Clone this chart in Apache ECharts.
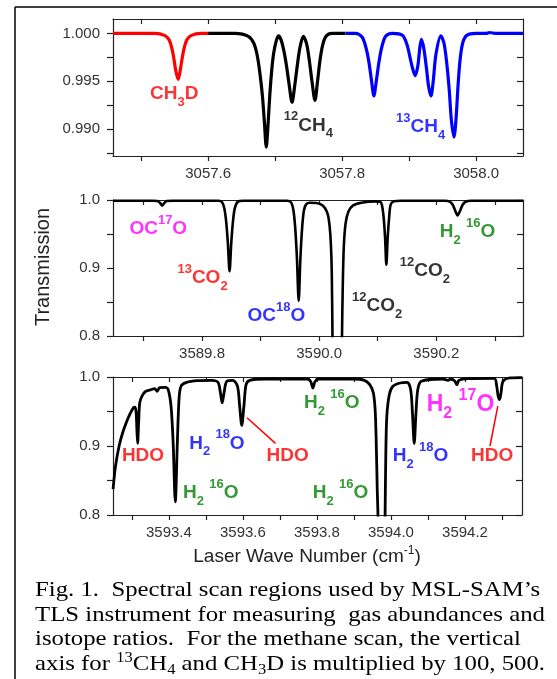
<!DOCTYPE html>
<html><head><meta charset="utf-8">
<script src="https://cdn.jsdelivr.net/npm/echarts@6/dist/echarts.min.js"></script>
<style>html,body{margin:0;padding:0;background:#fff;}#c{width:557px;height:679px;}</style>
</head><body><div id="c"></div>
<script>
// ---------- Panel 1: methane scan ----------
const ch3dTrace = [
 [3057.458,1.0000],[3057.520,1.0000],[3057.535,0.9998],[3057.542,0.9993],[3057.546,0.9984],
 [3057.549,0.9973],[3057.552,0.9960],[3057.5553,0.9952],[3057.558,0.9960],[3057.561,0.9973],
 [3057.564,0.9984],[3057.568,0.9993],[3057.575,0.9998],[3057.590,1.0000],[3057.600,1.0000]
];
const ch4Trace12 = [
 [3057.600,1.0000],[3057.640,1.0000],[3057.660,0.9997],[3057.668,0.9990],[3057.673,0.9978],
 [3057.677,0.9960],[3057.681,0.9935],[3057.684,0.9907],[3057.6868,0.9881],[3057.689,0.9900],
 [3057.692,0.9935],[3057.695,0.9962],[3057.698,0.9980],[3057.702,0.9993],[3057.7053,0.99975],
 [3057.709,0.9993],[3057.713,0.9982],[3057.717,0.9966],[3057.721,0.9946],[3057.7253,0.9928],
 [3057.729,0.9944],[3057.733,0.9966],[3057.737,0.9985],[3057.742,0.9997],[3057.747,0.9989],
 [3057.751,0.9972],[3057.755,0.9950],[3057.7595,0.9930],[3057.763,0.9948],[3057.767,0.9972],
 [3057.771,0.9988],[3057.776,0.9997],[3057.785,1.0000],[3057.805,1.0000]
];
const ch4Trace13 = [
 [3057.805,1.0000],[3057.820,1.0000],[3057.830,0.9996],[3057.836,0.9984],[3057.840,0.9970],
 [3057.844,0.9950],[3057.8474,0.99346],[3057.851,0.9950],[3057.855,0.9970],[3057.859,0.9985],
 [3057.865,0.9997],[3057.875,1.0000],[3057.890,0.9998],[3057.897,0.9988],[3057.901,0.9976],
 [3057.905,0.9964],[3057.909,0.99559],[3057.913,0.9966],[3057.916,0.9985],[3057.9184,0.99937],
 [3057.922,0.9984],[3057.926,0.9963],[3057.929,0.9945],[3057.9326,0.99346],[3057.936,0.9950],
 [3057.940,0.9978],[3057.9474,0.99975],[3057.952,0.9990],[3057.956,0.9970],[3057.960,0.9940],
 [3057.963,0.9910],[3057.967,0.98916],[3057.970,0.9910],[3057.973,0.9945],[3057.976,0.9972],
 [3057.980,0.9990],[3057.986,0.9998],[3058.000,1.0000],[3058.015,1.0000],[3058.020,1.0001],
 [3058.030,1.0000],[3058.070,1.0000]
];
// ---------- Panel 2: CO2 scan ----------
const co2Trace = [
 [3589.648,0.9990],[3589.715,0.9990],[3589.724,0.9985],[3589.728,0.9960],[3589.732,0.9918],
 [3589.736,0.9960],[3589.740,0.9985],[3589.750,0.9990],[3589.828,0.9990],[3589.834,0.9970],
 [3589.838,0.9880],[3589.841,0.9700],[3589.844,0.9380],[3589.847,0.8952],[3589.850,0.9380],
 [3589.853,0.9700],[3589.856,0.9880],[3589.861,0.9975],[3589.870,0.9990],[3589.945,0.9990],
 [3589.952,0.9965],[3589.956,0.9850],[3589.959,0.9600],[3589.962,0.9150],[3589.965,0.8517],
 [3589.968,0.9150],[3589.971,0.9600],[3589.974,0.9850],[3589.978,0.9940],[3589.984,0.9960],
 [3589.995,0.9955],[3590.003,0.9935],[3590.010,0.9880],[3590.015,0.9780],[3590.018,0.9600],
 [3590.020,0.9350],[3590.0215,0.8950],[3590.0227,0.8000],[3590.025,0.6000],[3590.031,0.5000],
 [3590.037,0.6000],[3590.039,0.8000],[3590.0402,0.8700],[3590.042,0.9300],[3590.045,0.9650],
 [3590.050,0.9830],[3590.058,0.9920],[3590.072,0.9960],[3590.095,0.9980],[3590.104,0.9975],
 [3590.107,0.9930],[3590.110,0.9750],[3590.1125,0.9450],[3590.1147,0.9048],[3590.117,0.9450],
 [3590.1195,0.9750],[3590.122,0.9930],[3590.127,0.9980],[3590.140,0.9990],[3590.215,0.9990],
 [3590.223,0.9975],[3590.228,0.9930],[3590.232,0.9850],[3590.2363,0.9773],[3590.241,0.9850],
 [3590.245,0.9930],[3590.250,0.9975],[3590.260,0.9990],[3590.348,0.9990]
];
// ---------- Panel 3: H2O scan ----------
const h2oTrace = [
 [3593.2492,0.8375],[3593.2559,0.8712],[3593.2655,0.9000],[3593.2751,0.9192],[3593.2847,0.9337],
 [3593.2943,0.9457],[3593.3039,0.9553],[3593.3087,0.9563],[3593.3116,0.9481],[3593.3135,0.9240],
 [3593.3155,0.9038],[3593.3183,0.9337],[3593.3212,0.9625],[3593.3280,0.9731],[3593.3376,0.9793],
 [3593.3520,0.9817],[3593.3616,0.9832],[3593.3683,0.9793],[3593.3750,0.9846],[3593.3904,0.9851],
 [3593.3981,0.9817],[3593.4058,0.9577],[3593.4115,0.9048],[3593.4173,0.8192],[3593.4231,0.9096],
 [3593.4279,0.9721],[3593.4336,0.9875],[3593.4480,0.9923],[3593.4768,0.9947],[3593.5153,0.9952],
 [3593.5326,0.9923],[3593.5393,0.9769],[3593.5441,0.9625],[3593.5489,0.9769],[3593.5566,0.9938],
 [3593.5729,0.9952],[3593.5854,0.9865],[3593.5912,0.9577],[3593.5969,0.9298],[3593.6027,0.9577],
 [3593.6085,0.9889],[3593.6181,0.9952],[3593.6594,0.9971],[3593.7746,0.9971],[3593.7833,0.9933],
 [3593.7890,0.9841],[3593.7948,0.9933],[3593.8035,0.9971],[3593.8995,0.9971],[3593.9283,0.9952],
 [3593.9427,0.9889],[3593.9524,0.9769],[3593.9572,0.9529],[3593.9600,0.9096],[3593.9629,0.8375],
 [3593.9648,0.8000],[3593.9700,0.6000],[3593.9745,0.5000],[3593.9790,0.6000],[3593.9841,0.8000],
 [3593.9860,0.8856],[3593.9888,0.9433],[3593.9956,0.9745],[3594.0052,0.9865],[3594.0244,0.9913],
 [3594.0436,0.9923],[3594.0532,0.9817],[3594.0580,0.9481],[3594.0628,0.9038],[3594.0676,0.9481],
 [3594.0724,0.9817],[3594.0820,0.9938],[3594.1397,0.9971],[3594.1541,0.9952],[3594.1608,0.9971],
 [3594.1723,0.9942],[3594.1780,0.9889],[3594.1838,0.9952],[3594.2069,0.9976],[3594.2790,0.9981],
 [3594.2857,0.9865],[3594.2896,0.9721],[3594.2934,0.9673],[3594.2973,0.9769],[3594.3030,0.9938],
 [3594.3223,0.9986],[3594.3539,0.9990]
];
// ---------- Axes ranges and ticks ----------
const xRange1 = [3057.458, 3058.07], yRange1 = [0.98718, 1.00151];
const xRange2 = [3589.648, 3590.348], yRange2 = [0.8, 1.0];
const xRange3 = [3593.249, 3594.354], yRange3 = [0.8, 1.0];
const xTicks1 = [3057.5,3057.6,3057.7,3057.8,3057.9,3058.0];
const xLabels1 = [3057.6,3057.8,3058.0];
const yTicks1 = [0.9875,0.990,0.9925,0.995,0.9975,1.000];
const yLabels1 = [0.990,0.995,1.000];
const xTicks2 = [3589.7,3589.8,3589.9,3590.0,3590.1,3590.2,3590.3];
const xLabels2 = [3589.8,3590.0,3590.2];
const xTicks3 = [3593.3,3593.4,3593.5,3593.6,3593.7,3593.8,3593.9,3594.0,3594.1,3594.2,3594.3];
const xLabels3 = [3593.4,3593.6,3593.8,3594.0,3594.2];
const yTicks23 = [0.8,0.85,0.9,0.95,1.0];
const yLabels23 = [0.8,0.9,1.0];
// ---------- Annotations: [x, y, species] ----------
const notes1 = [[3057.5132,0.99371,'CH3D'],[3057.713,0.99038,'12CH4'],[3057.8805,0.99021,'13CH4']];
const notes2 = [[3589.676,0.958,'OC17O'],[3589.758,0.8855,'13CO2'],[3589.8775,0.830,'OC18O'],
  [3590.1377,0.8952,'12CO2'],[3590.056,0.8444,'12CO2'],[3590.206,0.953,'H216O']];
const notes3 = [[3593.273,0.8865,'HDO'],[3593.4548,0.9038,'H218O'],[3593.664,0.8865,'HDO'],
  [3593.438,0.8327,'H216O'],[3593.765,0.9625,'H216O'],[3593.789,0.8317,'H216O'],
  [3594.005,0.8856,'H218O'],[3594.0965,0.960,'H217O'],[3594.2165,0.8865,'HDO']];
const leaders3 = [[[3593.611,0.9409],[3593.688,0.9038]],[[3594.2886,0.9577],[3594.2675,0.900]]];
const captionLines = [
 "Fig. 1.  Spectral scan regions used by MSL-SAM\u2019s",
 "TLS instrument for measuring  gas abundances and",
 "isotope ratios.  For the methane scan, the vertical",
 "{t|axis for }{s|13}{t|CH}{b|4}{t| and CH}{b|3}{t|D is multiplied by 100, 500.}"
];

// ---------- styles ----------
const SANS = 'Arial, "Liberation Sans", sans-serif';
const SERIF = '"Times New Roman", "Liberation Serif", serif';
const fmt = {
  'CH3D': '{m|CH}{b|3}{m|D}',
  '12CH4': '{p|12}{m|CH}{b|4}',
  '13CH4': '{p|13}{m|CH}{b|4}',
  'OC17O': '{m|OC}{p|17}{m|O}',
  'OC18O': '{m|OC}{p|18}{m|O}',
  '13CO2': '{p|13}{m|CO}{b|2}',
  '12CO2': '{p|12}{m|CO}{b|2}',
  'H216O': '{m|H}{b|2}{m| }{p|16}{m|O}',
  'H218O': '{m|H}{b|2}{m| }{p|18}{m|O}',
  'H217O': '{M|H}{B|2}{M| }{P|17}{M|O}',
  'HDO': '{m|HDO}'
};
const colorOf = {
  'CH3D':'#ff0000','12CH4':'#000000','13CH4':'#0000ff','OC17O':'#ff00ff','OC18O':'#0000ff',
  '13CO2':'#ff0000','12CO2':'#000000','H216O':'#008000','H218O':'#0000ff','H217O':'#ff00ff','HDO':'#ff0000'
};
function rich(c){
  return {
    m:{fontSize:19,fontWeight:'bold',fontFamily:SANS,lineHeight:30,verticalAlign:'middle',color:c},
    p:{fontSize:13,fontWeight:'bold',fontFamily:SANS,lineHeight:13,verticalAlign:'top',color:c},
    b:{fontSize:13,fontWeight:'bold',fontFamily:SANS,lineHeight:13,verticalAlign:'bottom',color:c},
    M:{fontSize:23,fontWeight:'bold',fontFamily:SANS,lineHeight:34,verticalAlign:'middle',color:c},
    P:{fontSize:16,fontWeight:'bold',fontFamily:SANS,lineHeight:15,verticalAlign:'top',color:c},
    B:{fontSize:16,fontWeight:'bold',fontFamily:SANS,lineHeight:15,verticalAlign:'bottom',color:c}
  };
}
const AX = '#222';
function xAx(gi, r, ticks, labels, pos){
  return {type:'value', gridIndex:gi, min:r[0], max:r[1], position:pos,
    axisLine:{show:true,onZero:false,lineStyle:{color:AX,width:1.2}},
    axisTick:{show:true,inside:pos==='top',length:5,customValues:ticks,lineStyle:{color:AX,width:1.2}},
    axisLabel:{show:pos==='bottom',customValues:labels,formatter:v=>v.toFixed(1),
      fontFamily:SANS,fontSize:15,color:'#333',margin:10},
    splitLine:{show:false}, minorTick:{show:false}};
}
function yAx(gi, r, ticks, labels, pos, dec){
  return {type:'value', gridIndex:gi, min:r[0], max:r[1], position:pos,
    axisLine:{show:true,onZero:false,lineStyle:{color:AX,width:1.2}},
    axisTick:{show:true,inside:pos==='right',length:6,customValues:ticks,lineStyle:{color:AX,width:1.2}},
    axisLabel:{show:pos==='left',customValues:labels,formatter:v=>v.toFixed(dec),
      fontFamily:SANS,fontSize:15,color:'#333',margin:13},
    splitLine:{show:false}, minorTick:{show:false}};
}
function trace(data, gi, color, w){
  return {type:'line', data, xAxisIndex:gi*2, yAxisIndex:gi*2, showSymbol:false, smooth:0.3,
    clip:true, lineStyle:{color, width:w}, itemStyle:{color}, z:3, silent:true};
}
function notes(list, gi){
  return {type:'scatter', xAxisIndex:gi*2, yAxisIndex:gi*2, symbolSize:0, silent:true, clip:false, z:5,
    data:list.map(n=>({value:[n[0],n[1]], label:{show:true, position:'right', distance:0,
      formatter:fmt[n[2]], rich:rich(colorOf[n[2]]), color:colorOf[n[2]]}}))};
}
const series = [
  trace(ch3dTrace,0,'#ff0000',3.2), trace(ch4Trace12,0,'#000000',3.2), trace(ch4Trace13,0,'#0000ff',3.2),
  trace(co2Trace,1,'#000000',2.6), trace(h2oTrace,2,'#000000',2.8),
  notes(notes1,0), notes(notes2,1), notes(notes3,2)
];
leaders3.forEach(l=>series.push({type:'line', data:l, xAxisIndex:4, yAxisIndex:4, showSymbol:false,
  lineStyle:{color:'#ff0000',width:1.5}, silent:true, z:4}));

const graphic = [
  {type:'line', shape:{x1:15,y1:7,x2:557,y2:7}, style:{stroke:'#000',lineWidth:1.5}},
  {type:'line', shape:{x1:15,y1:7,x2:15,y2:679}, style:{stroke:'#000',lineWidth:1.5}},
  {type:'text', x:43, y:267, rotation:Math.PI/2, style:{text:'Transmission', font:'20px '+SANS,
    fill:'#222', textAlign:'center', textVerticalAlign:'middle'}},
  {type:'text', x:307, y:557, style:{text:'{t|Laser Wave Number (cm}{s|-1}{t|)}', fill:'#222',
    textAlign:'center', textVerticalAlign:'middle',
    rich:{t:{fontSize:19,fontFamily:SANS,lineHeight:24,verticalAlign:'middle',fill:'#222'},
          s:{fontSize:12,fontFamily:SANS,lineHeight:12,verticalAlign:'top',fill:'#222'}}}}
];
const capY = [590, 615, 639, 664];
captionLines.forEach((t,i)=>{
  graphic.push({type:'text', x:35, y:capY[i], scaleX:1.18, style:{text: i<3 ? '{t|'+t+'}' : t, fill:'#000',
    textAlign:'left', textVerticalAlign:'middle',
    rich:{t:{fontSize:21,fontFamily:SERIF,lineHeight:26,verticalAlign:'middle',fill:'#000'},
          s:{fontSize:14,fontFamily:SERIF,lineHeight:14,verticalAlign:'top',fill:'#000'},
          b:{fontSize:14,fontFamily:SERIF,lineHeight:13,verticalAlign:'bottom',fill:'#000'}}}});
});

const chart = echarts.init(document.getElementById('c'), null, {renderer:'canvas'});
chart.setOption({
  animation:false, backgroundColor:'#fff',
  grid:[{left:113,top:19,width:410,height:137},{left:113,top:200,width:410,height:136},{left:113,top:377,width:409,height:138}],
  xAxis:[xAx(0,xRange1,xTicks1,xLabels1,'bottom'), xAx(0,xRange1,xTicks1,xLabels1,'top'),
         xAx(1,xRange2,xTicks2,xLabels2,'bottom'), xAx(1,xRange2,xTicks2,xLabels2,'top'),
         xAx(2,xRange3,xTicks3,xLabels3,'bottom'), xAx(2,xRange3,xTicks3,xLabels3,'top')],
  yAxis:[yAx(0,yRange1,yTicks1,yLabels1,'left',3), yAx(0,yRange1,yTicks1,yLabels1,'right',3),
         yAx(1,yRange2,yTicks23,yLabels23,'left',1), yAx(1,yRange2,yTicks23,yLabels23,'right',1),
         yAx(2,yRange3,yTicks23,yLabels23,'left',1), yAx(2,yRange3,yTicks23,yLabels23,'right',1)],
  series, graphic
});
</script></body></html>
